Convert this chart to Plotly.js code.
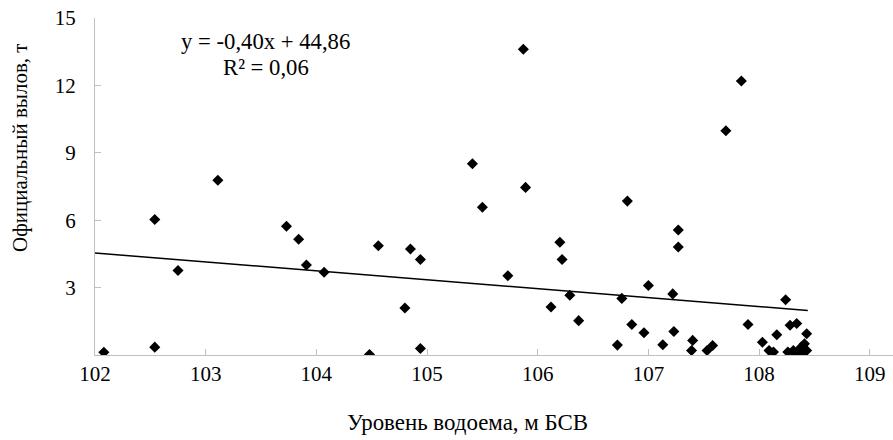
<!DOCTYPE html>
<html>
<head>
<meta charset="utf-8">
<script src="https://cdn.plot.ly/plotly-3.0.1.min.js"></script>
<style>
html,body{margin:0;padding:0;background:#fff;}
#chart{width:893px;height:440px;}
</style>
</head>
<body>
<div id="chart"></div>
<script>
// Уровень водоема (м БСВ)
var levelX = [
  102.08, 102.54, 102.54, 102.75, 103.11, 103.73, 103.84, 103.91, 104.07, 104.48,
  104.56, 104.80, 104.85, 104.94, 104.94, 105.41, 105.50, 105.73, 105.87, 105.89,
  106.12, 106.20, 106.22, 106.29, 106.37, 106.72, 106.76, 106.81, 106.85, 106.96,
  107.00, 107.13, 107.22, 107.23, 107.27, 107.27, 107.40, 107.39, 107.53, 107.58,
  107.70, 107.84, 107.90, 108.03, 108.09, 108.13, 108.16, 108.24, 108.28, 108.34,
  108.43, 108.26, 108.31, 108.35, 108.38, 108.41, 108.43, 108.40, 108.32
];
// Официальный вылов (т)
var catchY = [
  0.12, 6.03, 0.35, 3.76, 7.78, 5.73, 5.15, 4.01, 3.68, 0.02,
  4.86, 2.09, 4.72, 4.25, 0.29, 8.51, 6.58, 3.53, 13.61, 7.46,
  2.14, 5.02, 4.25, 2.66, 1.53, 0.44, 2.52, 6.85, 1.36, 0.99,
  3.09, 0.46, 2.72, 1.05, 5.56, 4.81, 0.65, 0.20, 0.20, 0.42,
  9.98, 12.20, 1.36, 0.57, 0.20, 0.13, 0.90, 2.46, 1.32, 1.40,
  0.95, 0.13, 0.20, 0.13, 0.35, 0.50, 0.20, 0.13, 0.10
];
// Линия тренда
var trendX = [102.0, 108.44];
var trendY = [4.54, 1.98];
var xTicks = [102, 103, 104, 105, 106, 107, 108, 109];
var yTicks = [3, 6, 9, 12, 15];
var eqText = "y = -0,40x + 44,86";
var r2Text = "R² = 0,06";
var xTitle = "Уровень водоема, м БСВ";
var yTitle = "Официальный вылов, т";

var serif = "Liberation Serif, Times New Roman, serif";

var traces = [
  {
    x: levelX, y: catchY, type: "scatter", mode: "markers",
    marker: {symbol: "diamond", size: 8.5, color: "#000000", line: {width: 0}},
    hoverinfo: "x+y", showlegend: false
  },
  {
    x: trendX, y: trendY, type: "scatter", mode: "lines",
    line: {color: "#000000", width: 1.5}, hoverinfo: "skip", showlegend: false
  }
];

var layout = {
  width: 893, height: 440,
  margin: {l: 95, r: 0, t: 18, b: 85, pad: 0},
  paper_bgcolor: "#ffffff", plot_bgcolor: "#ffffff",
  font: {family: serif, size: 21, color: "#000000"},
  showlegend: false,
  xaxis: {
    range: [102, 109.21], tickvals: xTicks, ticktext: xTicks.map(String),
    showgrid: false, zeroline: false, showline: true, linecolor: "#bfbfbf", linewidth: 1,
    ticks: "inside", ticklen: 6, tickcolor: "#bfbfbf", tickwidth: 1,
    tickfont: {family: serif, size: 21, color: "#000000"},
    fixedrange: true
  },
  yaxis: {
    range: [0, 15], tickvals: yTicks, ticktext: yTicks.map(String),
    showgrid: false, zeroline: false, showline: true, linecolor: "#bfbfbf", linewidth: 1,
    ticks: "inside", ticklen: 6, tickcolor: "#bfbfbf", tickwidth: 1,
    tickfont: {family: serif, size: 21, color: "#000000"},
    ticklabelstandoff: 14,
    fixedrange: true
  },
  annotations: [
    {text: eqText, xref: "paper", yref: "paper", x: (265 - 95) / 798, y: (355 - 41) / 337,
     showarrow: false, xanchor: "center", yanchor: "middle", font: {family: serif, size: 22.7, color: "#000"}},
    {text: r2Text, xref: "paper", yref: "paper", x: (266 - 95) / 798, y: (355 - 67) / 337,
     showarrow: false, xanchor: "center", yanchor: "middle", font: {family: serif, size: 22.7, color: "#000"}},
    {text: xTitle, xref: "paper", yref: "paper", x: (467 - 95) / 798, y: (355 - 422) / 337,
     showarrow: false, xanchor: "center", yanchor: "middle", font: {family: serif, size: 22.9, color: "#000"}},
    {text: yTitle, xref: "paper", yref: "paper", x: (20 - 95) / 798, y: (355 - 148) / 337,
     showarrow: false, xanchor: "center", yanchor: "middle", textangle: -90, font: {family: serif, size: 21, color: "#000"}}
  ]
};

Plotly.newPlot("chart", traces, layout, {displayModeBar: false, staticPlot: true});
</script>
</body>
</html>
